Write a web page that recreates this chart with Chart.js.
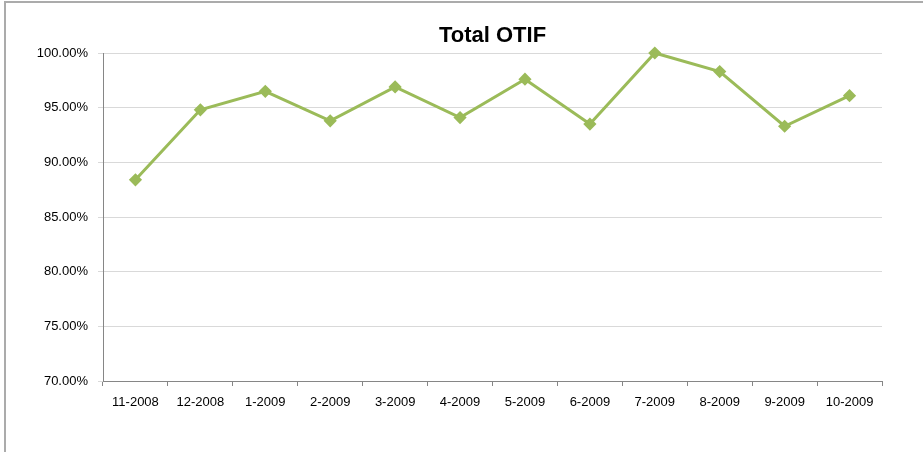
<!DOCTYPE html>
<html>
<head>
<meta charset="utf-8">
<script src="https://cdn.jsdelivr.net/npm/chart.js@4"></script>
<style>
  html, body { margin: 0; padding: 0; background: #fff; }
  #frame { position: absolute; left: 4px; top: 1px; width: 940px; height: 470px;
           border-top: 2px solid #ababab; border-left: 2px solid #ababab; }
  #wrap { position: absolute; left: 0; top: 0; width: 923px; height: 452px; }
</style>
</head>
<body>
<div id="frame"></div>
<div id="wrap"><canvas id="chart"></canvas></div>
<script>
const titulo = 'Total OTIF';
const meses = ['11-2008', '12-2008', '1-2009', '2-2009', '3-2009', '4-2009',
               '5-2009', '6-2009', '7-2009', '8-2009', '9-2009', '10-2009'];
const otif = [88.4, 94.8, 96.5, 93.8, 96.9, 94.1, 97.6, 93.5, 100.0, 98.3, 93.3, 96.1];

const fontFamily = "'Liberation Sans', Arial, sans-serif";
const axisColor = '#868686';
const gridColor = '#d9d9d9';
const verde = '#9BBB59';

// titulo centrado sobre a area do grafico
const tituloPlugin = {
  id: 'tituloOtif',
  afterDraw(chart) {
    const { ctx, chartArea } = chart;
    ctx.save();
    ctx.font = 'bold 22px ' + fontFamily;
    ctx.fillStyle = '#000';
    ctx.textAlign = 'center';
    ctx.textBaseline = 'middle';
    ctx.fillText(titulo, (chartArea.left + chartArea.right) / 2, 36);
    ctx.restore();
  }
};

new Chart(document.getElementById('chart'), {
  type: 'line',
  data: {
    labels: meses,
    datasets: [{
      label: titulo,
      data: otif,
      borderColor: verde,
      backgroundColor: verde,
      pointBackgroundColor: verde,
      pointBorderColor: verde,
      pointStyle: 'rectRot',
      pointRadius: 4.5,
      borderWidth: 3,
      tension: 0,
      fill: false,
      clip: false,
    }]
  },
  plugins: [tituloPlugin],
  options: {
    responsive: true,
    maintainAspectRatio: false,
    animation: false,
    layout: { padding: { left: 0, right: 41, top: 53, bottom: 0 } },
    plugins: { legend: { display: false }, tooltip: { enabled: false } },
    scales: {
      x: {
        offset: true,
        grid: { offset: true, drawOnChartArea: false, drawTicks: true, tickLength: 5, color: axisColor },
        border: { display: true, color: axisColor },
        ticks: { color: '#000', padding: 9, maxRotation: 0, autoSkip: false, font: { family: fontFamily, size: 13 } },
        afterFit: (s) => { s.height = 71; }
      },
      y: {
        min: 70,
        max: 100,
        ticks: {
          stepSize: 5,
          color: '#000',
          padding: 10,
          font: { family: fontFamily, size: 13 },
          callback: (v) => v.toFixed(2) + '%'
        },
        grid: { color: gridColor, tickLength: 5 },
        border: { display: true, color: axisColor },
        afterFit: (s) => { s.width = 103; }
      }
    }
  }
});
</script>
</body>
</html>
